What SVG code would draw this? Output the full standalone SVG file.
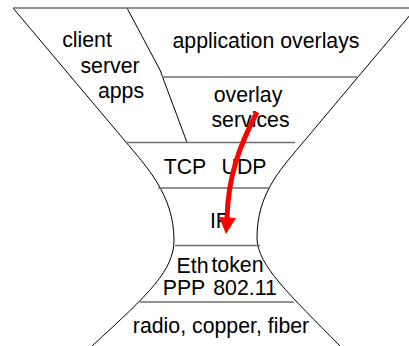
<svg xmlns="http://www.w3.org/2000/svg" width="409" height="346" viewBox="0 0 409 346">
<style>
.outline{fill:none;stroke:#000;stroke-width:1}
.sep{fill:none;stroke:#6e6e6e;stroke-width:1.5}
text{font-family:"Liberation Sans",Arial,sans-serif;font-size:21.3px;fill:#000;text-anchor:middle}
</style>
<rect width="409" height="346" fill="#fff"/>
<g id="hourglass">
<path class="outline" d="M13,8 L125,141 C146,166 174,195 174,240 C174,270 150,293 92,346 L88,350"/>
<path class="outline" d="M416,8 L300,146 C279,171 257,195 257,238 C257,265 290,295 340,346 L344,350"/>
<path class="outline" d="M127,8 L160,70 L187,142.5"/>
<line class="sep" x1="13" y1="8" x2="416" y2="8"/>
<line class="sep" x1="162" y1="77" x2="357" y2="77"/>
<line class="sep" x1="126" y1="142.5" x2="295" y2="142.5"/>
<line class="sep" x1="158" y1="188" x2="270" y2="188"/>
<line class="sep" x1="175" y1="245.5" x2="260" y2="245.5"/>
<line class="sep" x1="140" y1="302" x2="294" y2="302"/>
</g>
<g id="client-server-apps">
<text x="87" y="47">client</text>
<text x="110" y="73">server</text>
<text x="121" y="98">apps</text>
</g>
<g id="application-overlays">
<text x="266" y="47.5">application overlays</text>
</g>
<g id="overlay-services">
<text x="248" y="102">overlay</text>
<text x="250.5" y="127">services</text>
</g>
<g id="transport">
<text x="185" y="174">TCP</text>
<text x="244" y="174">UDP</text>
</g>
<g id="ip">
<text x="220" y="228">IP</text>
</g>
<g id="link">
<text x="192.5" y="273">Eth</text>
<text x="237.5" y="272">token</text>
<text x="184" y="295">PPP</text>
<text x="245" y="295">802.11</text>
</g>
<g id="physical">
<text x="221" y="333">radio, copper, fiber</text>
</g>
<g id="connectors">
<path d="M257,112 C240,145 228,175 227,219" fill="none" stroke="#ff0000" stroke-width="5"/>
<polygon points="219,217 236,218 226,234" fill="#ff0000"/>
</g>
</svg>
